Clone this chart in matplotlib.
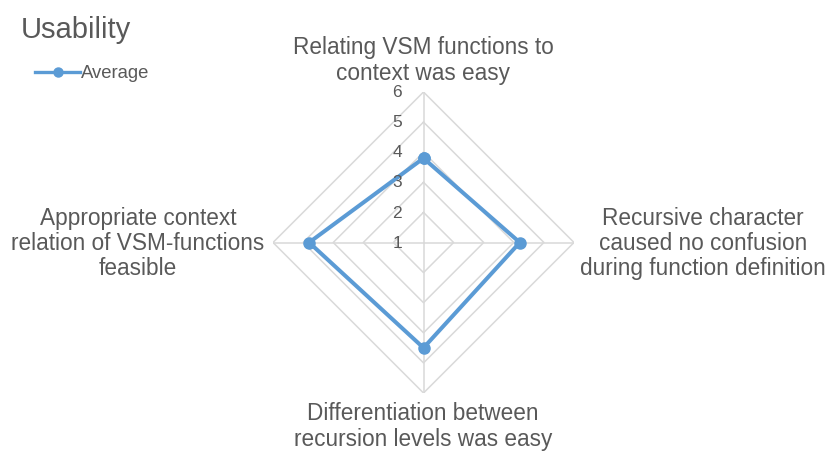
import matplotlib.pyplot as plt
import numpy as np

plt.rcParams['font.family'] = ['Liberation Sans', 'DejaVu Sans']

# data
categories = [['Relating VSM functions to', 'context was easy'],
              ['Recursive character', 'caused no confusion', 'during function definition'],
              ['Differentiation between', 'recursion levels was easy'],
              ['Appropriate context', 'relation of VSM-functions', 'feasible']]
average = [3.8, 4.2, 4.5, 4.8]
rticks = [1, 2, 3, 4, 5, 6]

W, H = 831, 451
fig = plt.figure(figsize=(W / 100, H / 100), dpi=100)

# axes placed in pixel terms: centre (423.5, 242.5), radius 150.5
cx, cy, R = 423.5, 242.5, 150.5
ax = fig.add_axes([(cx - R) / W, (H - cy - R) / H, 2 * R / W, 2 * R / H], polar=True)
ax.set_theta_offset(np.pi / 2)
ax.set_theta_direction(-1)
ax.set_ylim(1, 6)
ax.grid(False)
ax.spines['polar'].set_visible(False)
ax.set_xticks([])
ax.set_yticks([])
ax.patch.set_alpha(0)

angles = np.linspace(0, 2 * np.pi, len(categories), endpoint=False)
closed = np.append(angles, angles[0])

grid_col = '#D9D9D9'
for r in rticks[1:]:
    ax.plot(closed, [r] * len(closed), color=grid_col, lw=1.1, zorder=1)
for a in angles:
    ax.plot([a, a], [1, 6], color=grid_col, lw=1.1, zorder=1)

blue = '#5B9BD5'
vals = average + average[:1]
ax.plot(closed, vals, color=blue, lw=2.9, marker='o', ms=8,
        solid_joinstyle='miter', zorder=3, clip_on=False)

txt = '#595959'
for r in rticks:
    ax.annotate(str(r), xy=(0, r), xytext=(-15.5, -0.5), textcoords='offset points',
                ha='right', va='center', fontsize=12.5, color=txt)

# category labels: block centres in pixels, one text per line
centres = [(423, 59), (703, 242), (423, 425), (138, 242)]
step = 25.3
for lines, (x, yc) in zip(categories, centres):
    n = len(lines)
    for i, line in enumerate(lines):
        y = yc + (i - (n - 1) / 2) * step + 8
        fig.text(x / W, 1 - y / H, line, ha='center', va='baseline',
                 fontsize=16.3, color=txt)

fig.text(21 / W, 1 - 37.5 / H, 'Usability', ha='left', va='baseline', fontsize=21, color=txt)

# legend
fig.add_artist(plt.Line2D([35 / W, 80 / W], [1 - 71.5 / H] * 2, color=blue, lw=2.4,
                          transform=fig.transFigure))
fig.add_artist(plt.Line2D([58 / W], [1 - 71.5 / H], color=blue, marker='o', ms=6.5,
                          transform=fig.transFigure))
fig.text(81 / W, 1 - 78 / H, 'Average', ha='left', va='baseline', fontsize=13.3, color=txt)

fig.savefig('out.png', dpi=100)
